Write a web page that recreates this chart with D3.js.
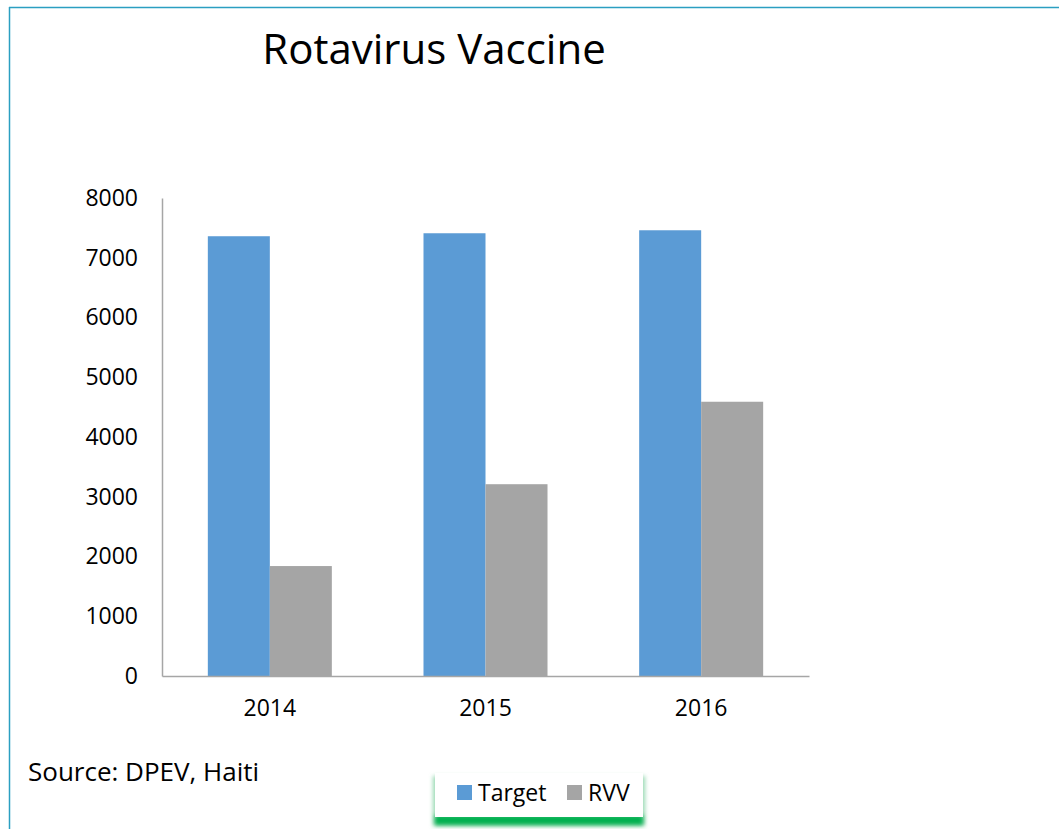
<!DOCTYPE html>
<html lang="en">
<head>
  <meta charset="UTF-8">
  <title>Rotavirus Vaccine</title>
  <script src="https://d3js.org/d3.v7.min.js"></script>
  <style>
    body { margin: 0; background: #fff; }
    text { font-family: "Open Sans", sans-serif; fill: #000; }
  </style>
</head>
<body>
<div id="chart"></div>
<script>
// values
const years = ["2014", "2015", "2016"];
const target = [7360, 7410, 7460];
const rvv = [1840, 3210, 4590];
const yTicks = [0, 1000, 2000, 3000, 4000, 5000, 6000, 7000, 8000];
const seriesNames = ["Target", "RVV"];
const seriesColors = ["#5b9bd5", "#a5a5a5"];

const W = 1059, H = 829;
const margin = { top: 198, right: 250, bottom: 153, left: 162 };
const width = W - margin.left - margin.right;
const height = H - margin.top - margin.bottom;

const svg = d3.select("#chart").append("svg")
  .attr("width", W)
  .attr("height", H);

// slide frame lines
svg.append("line").attr("x1", 9).attr("x2", W).attr("y1", 7.5).attr("y2", 7.5)
  .attr("stroke", "#2b9fc1").attr("stroke-width", 1.5);
svg.append("line").attr("x1", 9.5).attr("x2", 9.5).attr("y1", 7).attr("y2", H)
  .attr("stroke", "#2b9fc1").attr("stroke-width", 1.5);

// title
svg.append("text")
  .attr("x", 434).attr("y", 64)
  .attr("text-anchor", "middle")
  .style("font-size", "42px")
  .text("Rotavirus Vaccine");

const g = svg.append("g").attr("transform", `translate(${margin.left},${margin.top})`);

const x0 = d3.scaleBand().domain(years).range([0, width])
  .paddingInner(0.425).paddingOuter(0.2125);
const x1 = d3.scaleBand().domain(seriesNames).range([0, x0.bandwidth()]);
const y = d3.scaleLinear().domain([0, 8000]).range([height, 0]);

const rows = years.map((yr, i) => ({ year: yr, values: [target[i], rvv[i]] }));

// bars
const groups = g.selectAll(".grp").data(rows).enter().append("g")
  .attr("transform", d => `translate(${x0(d.year)},0)`);
groups.selectAll("rect")
  .data(d => d.values.map((v, k) => ({ name: seriesNames[k], value: v, color: seriesColors[k] })))
  .enter().append("rect")
  .attr("x", d => x1(d.name))
  .attr("width", x1.bandwidth())
  .attr("y", d => y(d.value))
  .attr("height", d => height - y(d.value))
  .attr("fill", d => d.color);

// y axis
const yAxis = g.append("g")
  .call(d3.axisLeft(y).tickValues(yTicks).tickSize(0).tickPadding(24).tickFormat(d3.format("d")));
yAxis.select(".domain").attr("stroke", "#a6a6a6").attr("stroke-width", 1.5);
yAxis.selectAll("text").style("font-size", "23px").style("font-family", "'Open Sans', sans-serif");

// x axis
const xAxis = g.append("g")
  .attr("transform", `translate(0,${height})`)
  .call(d3.axisBottom(x0).tickSize(0).tickPadding(24));
xAxis.select(".domain").attr("stroke", "#a6a6a6").attr("stroke-width", 1.5);
xAxis.selectAll("text").style("font-size", "23px").style("font-family", "'Open Sans', sans-serif");

// source note
svg.append("text")
  .attr("x", 28).attr("y", 781)
  .style("font-size", "26px")
  .text("Source: DPEV, Haiti");

// legend box with green shadow
const defs = svg.append("defs");
const blur = defs.append("filter").attr("id", "glow")
  .attr("x", "-20%").attr("y", "-40%").attr("width", "140%").attr("height", "180%");
blur.append("feGaussianBlur").attr("stdDeviation", 2);

svg.append("rect").attr("x", 433).attr("y", 776).attr("width", 212).attr("height", 50)
  .attr("fill", "#9ad9b3").attr("filter", "url(#glow)");
svg.append("rect").attr("x", 435).attr("y", 815).attr("width", 208).attr("height", 10)
  .attr("fill", "#00b050").attr("filter", "url(#glow)");
svg.append("rect").attr("x", 435).attr("y", 773).attr("width", 208).attr("height", 44)
  .attr("fill", "#fff");

const legendX = [457, 567];
const legend = svg.selectAll(".lg").data(seriesNames).enter().append("g")
  .attr("transform", (d, i) => `translate(${legendX[i]},785)`);
legend.append("rect").attr("width", 15).attr("height", 15)
  .attr("fill", (d, i) => seriesColors[i]);
legend.append("text").attr("x", 21).attr("y", 16)
  .style("font-size", "23px")
  .text(d => d);
</script>
</body>
</html>
